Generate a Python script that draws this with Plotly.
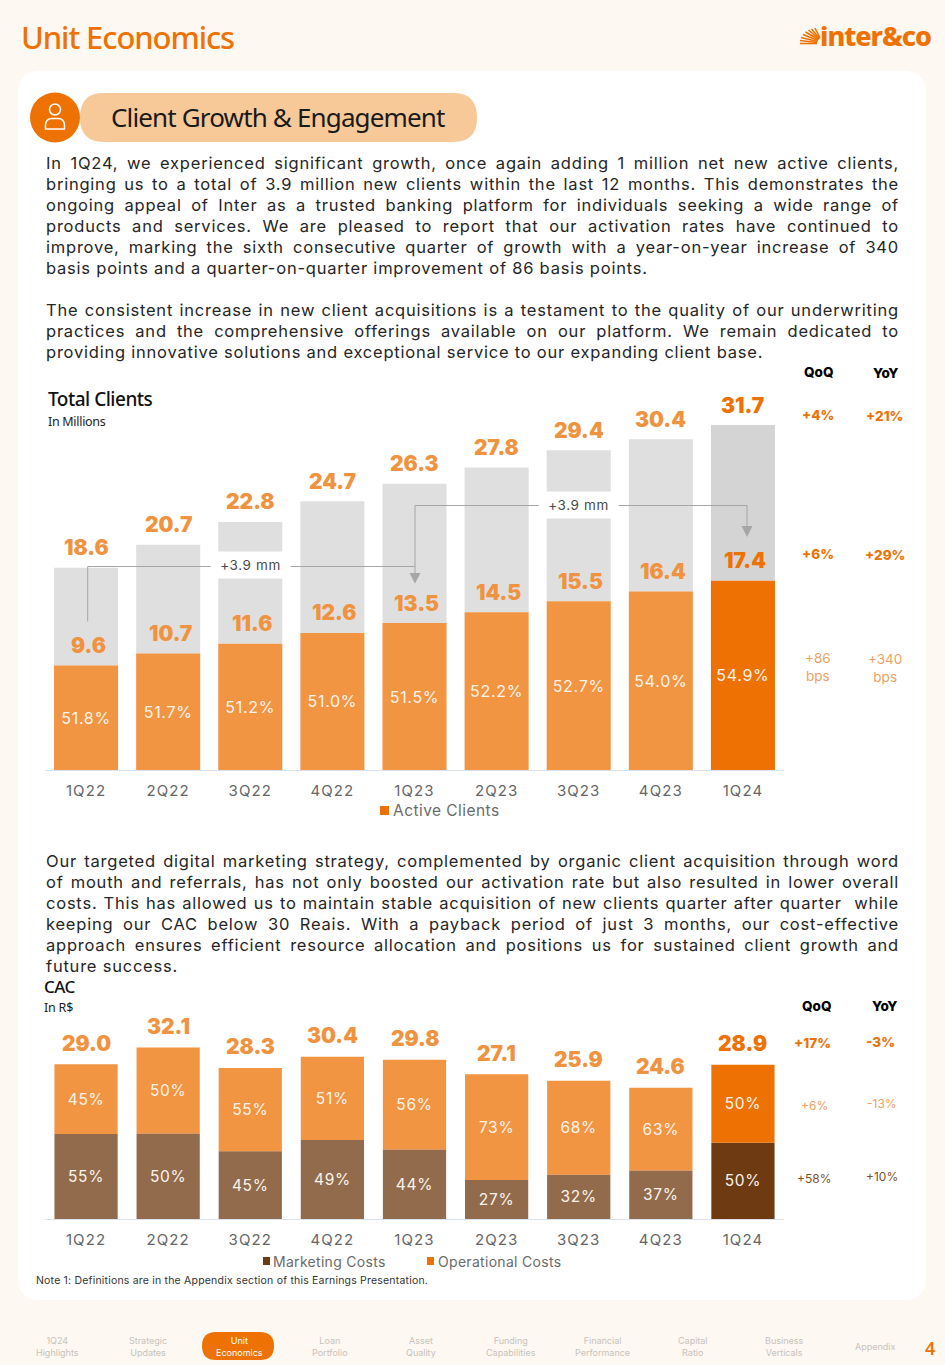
import json
import plotly.graph_objects as go

W, H = 945, 1365

# ---------- data ----------
quarters = ["1Q22", "2Q22", "3Q22", "4Q22", "1Q23", "2Q23", "3Q23", "4Q23", "1Q24"]
total_clients = [18.6, 20.7, 22.8, 24.7, 26.3, 27.8, 29.4, 30.4, 31.7]
active_clients = [9.6, 10.7, 11.6, 12.6, 13.5, 14.5, 15.5, 16.4, 17.4]
inactive_clients = [9.0, 10.0, 11.2, 12.1, 12.8, 13.3, 13.9, 14.0, 14.3]
activation_pct = ["51.8%", "51.7%", "51.2%", "51.0%", "51.5%", "52.2%", "52.7%", "54.0%", "54.9%"]

cac_total = [29.0, 32.1, 28.3, 30.4, 29.8, 27.1, 25.9, 24.6, 28.9]
cac_marketing = [15.9, 16.0, 12.7, 14.8, 13.0, 7.3, 8.3, 9.1, 14.3]
cac_operational = [13.1, 16.1, 15.6, 15.6, 16.8, 19.8, 17.6, 15.5, 14.6]
marketing_pct = ["55%", "50%", "45%", "49%", "44%", "27%", "32%", "37%", "50%"]
operational_pct = ["45%", "50%", "55%", "51%", "56%", "73%", "68%", "63%", "50%"]

para1 = [
    "In 1Q24, we experienced significant growth, once again adding 1 million net new active clients,",
    "bringing us to a total of 3.9 million new clients within the last 12 months. This demonstrates the",
    "ongoing appeal of Inter as a trusted banking platform for individuals seeking a wide range of",
    "products and services. We are pleased to report that our activation rates have continued to",
    "improve, marking the sixth consecutive quarter of growth with a year-on-year increase of 340",
    "basis points and a quarter-on-quarter improvement of 86 basis points.",
]
para2 = [
    "The consistent increase in new client acquisitions is a testament to the quality of our underwriting",
    "practices and the comprehensive offerings available on our platform. We remain dedicated to",
    "providing innovative solutions and exceptional service to our expanding client base.",
]
para3 = [
    "Our targeted digital marketing strategy, complemented by organic client acquisition through word",
    "of mouth and referrals, has not only boosted our activation rate but also resulted in lower overall",
    "costs. This has allowed us to maintain stable acquisition of new clients quarter after quarter  while",
    "keeping our CAC below 30 Reais. With a payback period of just 3 months, our cost-effective",
    "approach ensures efficient resource allocation and positions us for sustained client growth and",
    "future success.",
]
nav_items = ["1Q24<br>Highlights", "Strategic<br>Updates", "Unit<br>Economics", "Loan<br>Portfolio",
             "Asset<br>Quality", "Funding<br>Capabilities", "Financial<br>Performance",
             "Capital<br>Ratio", "Business<br>Verticals", "Appendix"]

# ---------- style ----------
BG = "#fdf8f2"
ORANGE = "#ed7203"
BROWN = "#6e3a12"
GRAY = "#d4d4d4"
LIGHT = "#ee9f62"
FONT = "Inter"
HEAD = "Noto Sans"
bar_opacity = [0.75] * 8 + [1]


def fx(p):
    return p / W


def fy(p):
    return 1 - p / H


def note(text, x, y, size, color, weight=400, font=FONT, anchor="center", spacing=None):
    if spacing is not None:
        text = f'<span style="letter-spacing:{spacing}px">{text}</span>'
    if anchor == "left":
        x -= 2  # the annotation's own padding
    return dict(text=text, x=fx(x), y=fy(y), xref="paper", yref="paper", xanchor=anchor, yanchor="middle",
                showarrow=False, align=anchor,
                font=dict(family=font, size=size, color=color, weight=weight))


fig = go.Figure()

# ---------- chart 1 ----------
fig.add_bar(x=quarters, y=inactive_clients, base=active_clients, name="Total Clients", width=0.78, showlegend=False,
            marker=dict(color=GRAY, opacity=bar_opacity, line_width=0), xaxis="x", yaxis="y")
fig.add_bar(x=quarters, y=active_clients, name="Active Clients", width=0.78, showlegend=False,
            marker=dict(color=ORANGE, opacity=bar_opacity, line_width=0), xaxis="x", yaxis="y",
            text=activation_pct, textposition="inside", insidetextanchor="middle", textangle=0,
            insidetextfont=dict(family=FONT, size=16, color="#fdf3ea"), constraintext="none")

# ---------- chart 2 ----------
fig.add_bar(x=quarters, y=cac_marketing, name="Marketing Costs", width=0.77, showlegend=False,
            marker=dict(color=BROWN, opacity=bar_opacity, line_width=0), xaxis="x2", yaxis="y2",
            text=marketing_pct, textposition="inside", insidetextanchor="middle", textangle=0,
            insidetextfont=dict(family=FONT, size=15.5, color="#fdf3ea"), constraintext="none")
fig.add_bar(x=quarters, y=cac_operational, base=cac_marketing, name="Operational Costs", width=0.77, showlegend=False,
            marker=dict(color=ORANGE, opacity=bar_opacity, line_width=0), xaxis="x2", yaxis="y2",
            text=operational_pct, textposition="inside", insidetextanchor="middle", textangle=0,
            insidetextfont=dict(family=FONT, size=15.5, color="#fdf3ea"), constraintext="none")

annotations = []

# value labels anchored on data
for i, q in enumerate(quarters):
    last = i == len(quarters) - 1
    col = ORANGE if last else "#f09340"
    annotations.append(dict(x=q, y=total_clients[i], xref="x", yref="y", yshift=20, showarrow=False, yanchor="middle",
                            text=f"{total_clients[i]:.1f}",
                            font=dict(family=FONT, size=21, color=col, weight=900)))
    annotations.append(dict(x=q, y=active_clients[i], xref="x", yref="y", yshift=20, xshift=2, showarrow=False, yanchor="middle",
                            text=f"{active_clients[i]:.1f}",
                            font=dict(family=FONT, size=21, color=col, weight=900)))
    annotations.append(dict(x=q, y=cac_total[i], xref="x2", yref="y2", yshift=21, showarrow=False, yanchor="middle",
                            text=f"{cac_total[i]:.1f}",
                            font=dict(family=FONT, size=21, color=col, weight=900)))

# connector labels (white boxes over the gray bars)
for q, yval in (("3Q22", 18.85), ("3Q23", 24.36)):
    annotations.append(dict(x=q, y=yval, xref="x", yref="y", showarrow=False,
                            text='<span style="letter-spacing:0.6px">+3.9 mm</span>', width=79, height=26,
                            bgcolor="white", borderpad=0, yanchor="middle",
                            font=dict(family=FONT, size=13.5, color="#4a4a4a")))

BODY = dict(size=16.5, color="#262626", anchor="left", spacing=0.78)
for lines, y0 in ((para1, 163), (para2, 310), (para3, 861)):
    for k, line_text in enumerate(lines):
        annotations.append(note(line_text, 46, y0 + 21 * k, **BODY))

annotations += [
    note("Unit Economics", 21, 37, 31, ORANGE, 500, HEAD, "left", -1.1),
    note("inter&amp;co", 820, 35, 27, ORANGE, 800, HEAD, "left", -1.0),
    note("Client Growth &amp; Engagement", 111, 117, 26, "#1a1a1a", 400, HEAD, "left", -0.85),
    note("Total Clients", 48, 399, 19, "#111111", 500, HEAD, "left", -0.5),
    note("In Millions", 48, 421, 12.5, "#222222", 400, HEAD, "left", -0.3),
    note("CAC", 44, 986, 17, "#111111", 500, HEAD, "left", -0.5),
    note("In R$", 44, 1007, 12.5, "#222222", 400, HEAD, "left", -0.2),
    note("Active Clients", 393, 810.5, 15.5, "#6b6b6b", 400, FONT, "left", 0.45),
    note("Marketing Costs", 273, 1261, 14, "#6b6b6b", 400, FONT, "left", 0.3),
    note("Operational Costs", 438, 1261, 14, "#6b6b6b", 400, FONT, "left", 0.3),
    note("Note 1: Definitions are in the Appendix section of this Earnings Presentation.", 36, 1280, 10.5, "#333333", 400, FONT, "left", 0.2),
    note("QoQ", 818, 372, 13.5, "#000000", 800),
    note("YoY", 885, 373, 13.5, "#000000", 800),
    note("+4%", 818, 414.5, 13.5, ORANGE, 800),
    note("+21%", 885, 415.5, 13.5, ORANGE, 800),
    note("+6%", 818, 553.5, 13.5, ORANGE, 800),
    note("+29%", 885, 555, 13.5, ORANGE, 800),
    note("+86<br>bps", 818, 667, 13.5, LIGHT),
    note("+340<br>bps", 885, 668, 13.5, LIGHT),
    note("QoQ", 816, 1005.5, 13.5, "#000000", 800),
    note("YoY", 884, 1005.5, 13.5, "#000000", 800),
    note("+17%", 812.5, 1042.5, 13.5, ORANGE, 800),
    note("-3%", 880.5, 1041.5, 13.5, ORANGE, 800),
    note("+6%", 814, 1105, 12, LIGHT),
    note("-13%", 882, 1103.5, 12, LIGHT),
    note("+58%", 814, 1178, 12, "#7d5228"),
    note("+10%", 882, 1176.5, 12, "#7d5228"),
    note("4", 930, 1347.5, 18, ORANGE, 600, HEAD),
]

nav_x = [57, 148, 239, 330, 421, 511, 602, 693, 784, 875]
for i, (item, nx) in enumerate(zip(nav_items, nav_x)):
    annotations.append(note(item, nx, 1346.5, 9, "#ffffff" if i == 2 else "#c7c3bd"))


# ---------- shapes ----------
def rect(x0, y0, x1, y1, color):
    return dict(type="rect", xref="paper", yref="paper", x0=fx(x0), x1=fx(x1), y0=fy(y0), y1=fy(y1),
                fillcolor=color, line_width=0, layer="above")


def line(x0, y0, x1, y1, color="#a6a6a6", w=1):
    return dict(type="line", xref="paper", yref="paper", x0=fx(x0), x1=fx(x1), y0=fy(y0), y1=fy(y1),
                line=dict(color=color, width=w), layer="above")


def path(pts, fill=None):
    d = "M" + " L".join(f"{fx(a):.5f},{fy(b):.5f}" for a, b in pts) + " Z"
    return dict(type="path", xref="paper", yref="paper", path=d, fillcolor=fill, line_width=0, layer="above")


def rounded(x0, y0, x1, y1, r, fill, layer="below"):
    a, b, c, d = fx(x0), fx(x1), fy(y0), fy(y1)
    rx, ry = r / W, r / H
    p = (f"M{a+rx:.5f},{c:.5f} L{b-rx:.5f},{c:.5f} Q{b:.5f},{c:.5f} {b:.5f},{c-ry:.5f} "
         f"L{b:.5f},{d+ry:.5f} Q{b:.5f},{d:.5f} {b-rx:.5f},{d:.5f} L{a+rx:.5f},{d:.5f} "
         f"Q{a:.5f},{d:.5f} {a:.5f},{d+ry:.5f} L{a:.5f},{c-ry:.5f} Q{a:.5f},{c:.5f} {a+rx:.5f},{c:.5f} Z")
    return dict(type="path", xref="paper", yref="paper", path=p, fillcolor=fill, line_width=0, layer=layer)


def circle(cx, cy, r, fill=None, lc=None, lw=0):
    return dict(type="circle", xref="paper", yref="paper", x0=fx(cx - r), x1=fx(cx + r), y0=fy(cy + r), y1=fy(cy - r),
                fillcolor=fill or "rgba(0,0,0,0)", line=dict(color=lc or "rgba(0,0,0,0)", width=lw), layer="above")


shapes = [
    rounded(18, 71, 926, 1300, 22, "#ffffff"),
    rounded(80, 93, 477, 142, 24, "#f7c998", "above"),
    circle(55, 117.5, 25, ORANGE),
    circle(55, 109.5, 5.5, None, "white", 1.5),
    dict(type="path", xref="paper", yref="paper", line=dict(color="white", width=1.5), fillcolor="rgba(0,0,0,0)", layer="above",
         path=f"M{fx(45.5)},{fy(129)} L{fx(64.5)},{fy(129)} L{fx(64.5)},{fy(125)} Q{fx(64)},{fy(118.5)} {fx(58)},{fy(118.5)} "
              f"L{fx(52)},{fy(118.5)} Q{fx(46)},{fy(118.5)} {fx(45.5)},{fy(125)} Z"),
    rounded(202, 1332, 274, 1360, 14, ORANGE, "above"),
    rect(380, 806, 389, 815, ORANGE),
    rect(263, 1257, 270, 1265, BROWN),
    rect(427, 1257, 434, 1265, ORANGE),
    # connectors
    line(87.7, 566.5, 87.7, 621.5),
    line(87.7, 566.5, 415, 566.5),
    line(415, 505.5, 415, 575),
    line(415, 505.5, 747, 505.5),
    line(747, 505.5, 747, 528),
    path([(409.5, 573), (420.5, 573), (415, 583.5)], "#a6a6a6"),
    path([(741.5, 526), (752.5, 526), (747, 537)], "#a6a6a6"),
]
# logo fan: rays widening toward the lower left
ray_ends = [(800, 43.5), (800, 40.5), (801, 37.5), (803, 34.5), (805.5, 32), (808.5, 30), (811.5, 29), (815, 28)]
ray_starts = [(817, 43.5), (817, 42.5), (817.5, 41.5), (818, 40.5), (818.5, 39.5), (819, 39), (819.5, 38.5), (820, 38)]
for (sx, sy), (ex, ey) in zip(ray_starts, ray_ends):
    shapes.append(line(sx, sy, ex, ey, ORANGE, 1.6))

axis_common = dict(type="category", categoryorder="array", categoryarray=quarters, range=[-0.5, 8.5],
                   showgrid=False, zeroline=False, ticks="", showline=True, linecolor="#dbe1ea", linewidth=1,
                   tickfont=dict(family=FONT, size=15, color="#666666"), ticklabelstandoff=7, fixedrange=True)
yaxis_common = dict(visible=False, showgrid=False, zeroline=False, fixedrange=True)

fig.update_layout(
    width=W, height=H, margin=dict(l=0, r=0, t=0, b=0), autosize=False,
    paper_bgcolor=BG, plot_bgcolor="rgba(0,0,0,0)", barmode="overlay", showlegend=False,
    xaxis=dict(domain=[45 / W, 784 / W], anchor="y", **axis_common),
    yaxis=dict(domain=[1 - 770 / H, 1 - 385 / H], range=[0, 385 / 10.88], **yaxis_common),
    xaxis2=dict(domain=[45 / W, 784 / W], anchor="y2", **axis_common),
    yaxis2=dict(domain=[1 - 1219 / H, 1 - 1030 / H], range=[0, 189 / 5.34], **yaxis_common),
    annotations=annotations, shapes=shapes,
)

# Remove the page margin and justify the body copy to the column width.
justify = """
(function(){
  document.documentElement.style.margin = '0';
  document.documentElement.style.background = '%s';
  document.body.style.margin = '0';
  var full = %s, target = 853;
  document.querySelectorAll('.annotation-text').forEach(function(t){
    var s = t.textContent;
    if (full.indexOf(s) < 0) return;
    var n = (s.match(/ /g) || []).length;
    var extra = (target - t.getComputedTextLength()) / n;
    t.style.wordSpacing = extra + 'px';
    t.querySelectorAll('tspan').forEach(function(k){ k.style.wordSpacing = extra + 'px'; });
  });
  document.querySelectorAll('.xtick text, .x2tick text').forEach(function(t){ t.style.letterSpacing = '1.1px'; });
  document.querySelectorAll('.bartext text, text.bartext').forEach(function(t){ t.style.letterSpacing = '0.7px'; });
})();
""" % (BG, json.dumps(para1[:5] + para2[:2] + para3[:5]))

fig.write_html("out.html", post_script=justify, config=dict(displayModeBar=False, staticPlot=True))
